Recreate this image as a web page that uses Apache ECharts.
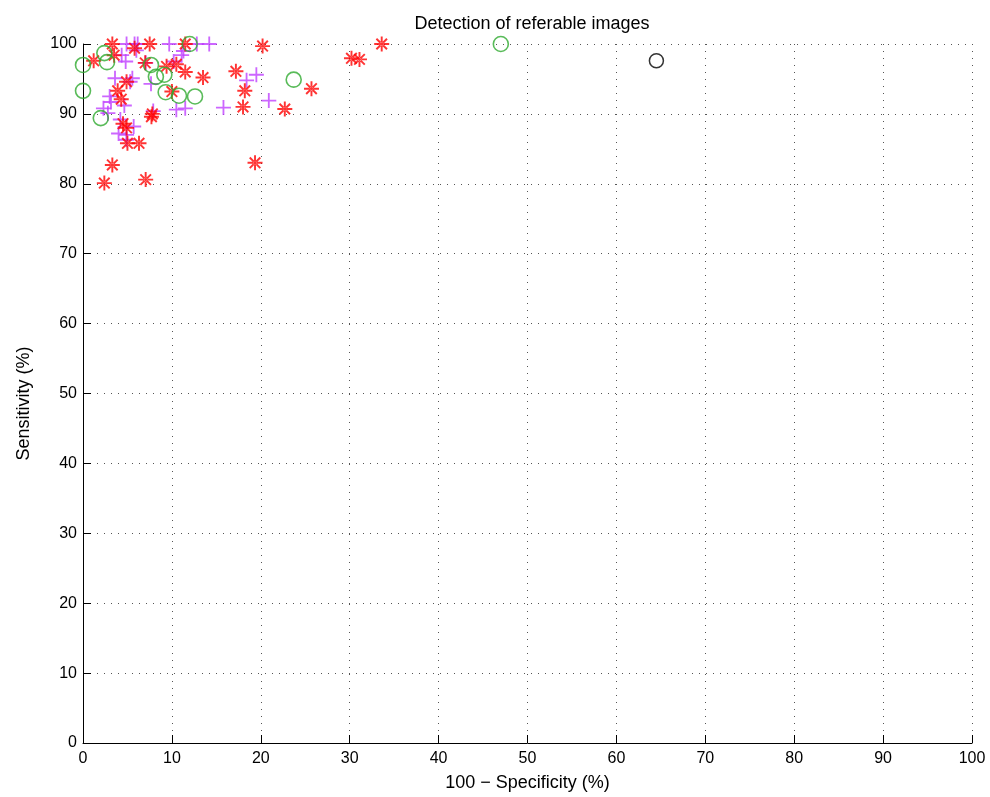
<!DOCTYPE html>
<html><head><meta charset="utf-8">
<script src="https://cdn.jsdelivr.net/npm/echarts@6/dist/echarts.min.js"></script>
<style>html,body{margin:0;padding:0;background:#fff}#c{width:990px;height:797px}</style>
</head><body><div id="c"></div>
<script>
// Red asterisks [100-specificity, sensitivity]
const redStars = [
  [3.3,100],[7.5,100],[11.5,100],[20.2,99.7],[33.6,100],
  [5.8,99.4],[3.5,98.4],[1.2,97.6],[7.0,97.3],[9.4,96.8],[10.5,97.1],[11.5,96.0],
  [13.5,95.2],[17.2,96.1],[4.9,94.6],[3.9,93.3],[4.3,92.1],[10.0,93.2],
  [7.7,89.6],[7.8,90.0],[4.5,88.6],[4.9,88.0],[5.0,85.8],[6.3,85.8],
  [3.3,82.7],[2.4,80.1],[7.05,80.6],
  [30.2,97.95],[31.1,97.8],[18.2,93.3],[25.7,93.6],[18.0,91.0],[22.7,90.7],[19.35,83.0]
];
// Purple pluses
const purplePlus = [
  [4.9,100],[5.8,100],[6.15,100],[9.7,100],[12.8,100],[14.2,100],
  [6.0,99.1],[11.1,98.4],[11.3,99.0],[4.35,98.4],[4.8,97.5],[7.05,97.3],[10.2,97.5],
  [3.6,95.1],[5.55,95.1],[5.3,94.6],[7.65,94.3],[3.0,92.5],[3.15,91.7],[4.65,91.2],
  [2.3,90.8],[2.8,90.1],[7.9,90.4],[10.5,90.6],[11.5,90.8],[15.8,90.9],
  [4.2,89.2],[5.7,88.2],[4.0,87.2],[4.9,87.0],[4.9,86.3],
  [19.5,95.6],[18.4,94.8],[20.9,91.9]
];
// Green circles
const greenCircles = [
  [0,97.0],[0,93.3],[2.4,98.7],[2.7,97.4],[2.0,89.4],[7.65,97.0],[8.2,95.3],
  [9.15,95.6],[9.3,93.1],[10.8,92.6],[12.6,92.5],[12.0,100],[23.7,94.9],[47.0,100]
];
// Black circle
const blackCircles = [[64.5,97.6]];

const xTicks = [0,10,20,30,40,50,60,70,80,90,100];
const yTicks = [0,10,20,30,40,50,60,70,80,90,100];

const starPath = 'path://M-7,-0.9L7,-0.9L7,0.9L-7,0.9Z M-0.9,-7L0.9,-7L0.9,7L-0.9,7Z M-4.31,-5.58L5.58,4.31L4.31,5.58L-5.58,-4.31Z M-5.58,4.31L4.31,-5.58L5.58,-4.31L-4.31,5.58Z M-1.8,0A1.8,1.8 0 1 0 1.8,0A1.8,1.8 0 1 0 -1.8,0Z';
const plusPath = 'path://M-7,-0.85L7,-0.85L7,0.85L-7,0.85Z M-0.85,-7L0.85,-7L0.85,7L-0.85,7Z';

const font = "'Liberation Sans Narrow','Liberation Sans',Arial,sans-serif";
const chart = echarts.init(document.getElementById('c'), null, {renderer:'canvas'});
const axisCommon = {
  min: 0, max: 100, interval: 10,
  axisLine: {show:true, onZero:false, lineStyle:{color:'#000', width:1}},
  axisTick: {show:true, inside:true, length:8, lineStyle:{color:'#000'}},
  splitLine: {show:true, lineStyle:{color:'#555', type:[1,6], width:1}},
  axisLabel: {color:'#000', fontSize:16, fontFamily:font},
  nameTextStyle: {color:'#000', fontSize:18, fontFamily:font}
};
chart.setOption({
  animation: false,
  backgroundColor: '#fff',
  title: {text:'Detection of referable images', left:527, top:10, textAlign:'center',
    textStyle:{fontSize:18, fontWeight:'normal', color:'#000', fontFamily:font}},
  grid: {left:83, right:18, top:44, bottom:52, containLabel:false},
  xAxis: Object.assign({}, axisCommon, {type:'value', name:'100 − Specificity (%)', nameLocation:'middle', nameGap:31,
    axisLabel: Object.assign({}, axisCommon.axisLabel, {margin:8, formatter: v => xTicks.includes(v) ? String(v) : ''})}),
  yAxis: Object.assign({}, axisCommon, {type:'value', name:'Sensitivity (%)', nameLocation:'middle', nameGap:50,
    nameTextStyle: Object.assign({}, axisCommon.nameTextStyle, {padding:[0,20,0,0]}),
    axisLabel: Object.assign({}, axisCommon.axisLabel, {margin:6, formatter: v => yTicks.includes(v) ? String(v) : ''})}),
  series: [
    {type:'scatter', data: purplePlus, symbol: plusPath, symbolSize:15, itemStyle:{color:'#bf40ff'}, z:2},
    {type:'scatter', data: redStars, symbol: starPath, symbolSize:15, itemStyle:{color:'#ff0000'}, z:3},
    {type:'scatter', data: greenCircles, symbol:'circle', symbolSize:15, itemStyle:{color:'rgba(0,0,0,0)', borderColor:'#2faa2f', borderWidth:1.6}, z:4},
    {type:'scatter', data: blackCircles, symbol:'circle', symbolSize:14, itemStyle:{color:'rgba(0,0,0,0)', borderColor:'#000', borderWidth:1.5}, z:5}
  ]
});
</script></body></html>
